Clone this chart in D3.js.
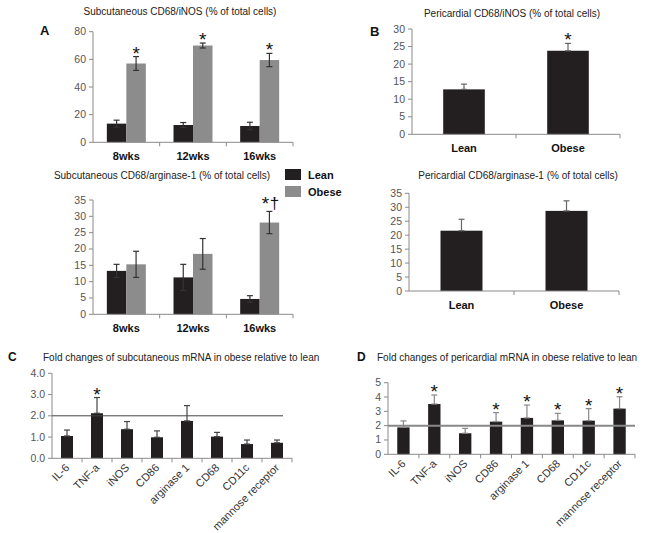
<!DOCTYPE html>
<html><head><meta charset="utf-8">
<script src="https://cdn.jsdelivr.net/npm/d3@7"></script>
<style>body{margin:0;background:#fff}svg{display:block;font-family:"Liberation Sans",Arial,sans-serif}</style>
</head><body><svg id="c" width="645" height="533"></svg>
<script>
// ---- data ----
const weeks = ["8wks", "12wks", "16wks"];
const groups = ["Lean", "Obese"];
const aInosLean = [13.5, 12.5, 11.8];
const aInosLeanErr = [2.5, 1.8, 2.7];
const aInosObese = [57, 70, 59.5];
const aInosObeseErr = [5, 1.8, 4.8];
const aArgLean = [13.3, 11.3, 4.7];
const aArgLeanErr = [2.0, 4.0, 1.0];
const aArgObese = [15.3, 18.5, 28.1];
const aArgObeseErr = [4.0, 4.7, 3.4];
const bInos = [12.8, 23.8];
const bInosErr = [1.5, 2.1];
const bArg = [21.6, 28.7];
const bArgErr = [4.1, 3.6];
const genes = ["IL-6", "TNF-a", "iNOS", "CD86", "arginase 1", "CD68", "CD11c", "mannose receptor"];
const cVals = [1.05, 2.12, 1.37, 0.99, 1.76, 1.02, 0.67, 0.73];
const cErr = [0.28, 0.74, 0.36, 0.30, 0.72, 0.20, 0.19, 0.13];
const dVals = [1.88, 3.51, 1.47, 2.28, 2.54, 2.37, 2.35, 3.19];
const dErr = [0.45, 0.63, 0.34, 0.63, 0.90, 0.49, 0.84, 0.83];
const aInosTicks = [0, 20, 40, 60, 80];
const ticks35 = [0, 5, 10, 15, 20, 25, 30, 35];
const ticks30 = [0, 5, 10, 15, 20, 25, 30];
const cTicks = [0, 1, 2, 3, 4];
const dTicks = [0, 1, 2, 3, 4, 5];

const LEAN = "#231f20", OBESE = "#8c8c8c";
const svg = d3.select("#c");

function yAxis(g, y, x0, ticks, fmt) {
  g.append("line").attr("x1", x0).attr("x2", x0).attr("y1", y.range()[0]).attr("y2", y.range()[1]).attr("stroke", "#8a8a8a");
  ticks.forEach(t => {
    g.append("line").attr("x1", x0 - 4).attr("x2", x0).attr("y1", y(t)).attr("y2", y(t)).attr("stroke", "#8a8a8a");
    g.append("text").attr("x", x0 - 7).attr("y", y(t) + 3.5).attr("text-anchor", "end")
      .attr("font-size", 10.5).attr("fill", "#555").text(fmt ? fmt(t) : t);
  });
}
function xAxis(g, x, y0) {
  const [a, b] = x.range();
  g.append("line").attr("x1", a).attr("x2", b).attr("y1", y0).attr("y2", y0).attr("stroke", "#8a8a8a");
  const n = x.domain().length, step = (b - a) / n;
  for (let i = 1; i <= n; i++) {
    g.append("line").attr("x1", a + i * step).attr("x2", a + i * step).attr("y1", y0).attr("y2", y0 + 4).attr("stroke", "#8a8a8a");
  }
}
function errBar(g, cx, yTop, yBot, color) {
  g.append("line").attr("x1", cx).attr("x2", cx).attr("y1", yTop).attr("y2", yBot).attr("stroke", color).attr("stroke-width", 1.2);
  g.append("line").attr("x1", cx - 3).attr("x2", cx + 3).attr("y1", yTop).attr("y2", yTop).attr("stroke", color).attr("stroke-width", 1.2);
  g.append("line").attr("x1", cx - 3).attr("x2", cx + 3).attr("y1", yBot).attr("y2", yBot).attr("stroke", color).attr("stroke-width", 1.2);
}
// y = top of error bar cap
function star(g, x, y) {
  g.append("text").attr("x", x).attr("y", y + 3).attr("text-anchor", "middle").attr("font-size", 19).attr("fill", "#111").text("*");
}

// ---- Panel A (grouped) ----
function groupedPanel(opts) {
  const g = svg.append("g");
  const x0 = d3.scaleBand().domain(weeks).range(opts.xr).paddingInner(0).paddingOuter(0);
  const x1 = d3.scaleBand().domain(groups).range([0, x0.bandwidth()]).paddingInner(0).paddingOuter(0.71);
  const y = d3.scaleLinear().domain([0, opts.max]).range(opts.yr);
  yAxis(g, y, opts.xr[0], opts.ticks);
  const series = [[opts.lean, opts.leanErr, LEAN], [opts.obese, opts.obeseErr, OBESE]];
  weeks.forEach((w, i) => {
    series.forEach(([vals, errs, col], k) => {
      const bx = x0(w) + x1(groups[k]);
      g.append("rect").attr("x", bx).attr("y", y(vals[i])).attr("width", x1.bandwidth())
        .attr("height", y(0) - y(vals[i])).attr("fill", col);
      errBar(g, bx + x1.bandwidth() / 2, y(vals[i] + errs[i]), y(vals[i] - errs[i]), "#333");
    });
    g.append("text").attr("x", x0(w) + x0.bandwidth() / 2).attr("y", y(0) + 18).attr("text-anchor", "middle")
      .attr("font-size", 11).attr("font-weight", "bold").attr("fill", "#111").text(w);
  });
  xAxis(g, x0, y(0));
  g.append("text").attr("x", opts.tx).attr("y", opts.ty).attr("text-anchor", "middle").attr("font-size", 10).attr("fill", "#222").text(opts.title);
  return { g, x0, x1, y };
}
const A1 = groupedPanel({ xr: [93, 293], yr: [142.3, 31.7], max: 80, ticks: aInosTicks,
  lean: aInosLean, leanErr: aInosLeanErr, obese: aInosObese, obeseErr: aInosObeseErr,
  title: "Subcutaneous CD68/iNOS (% of total cells)", tx: 180, ty: 15 });
weeks.forEach((w, i) => {
  star(A1.g, A1.x0(w) + A1.x1("Obese") + A1.x1.bandwidth() / 2, A1.y(aInosObese[i] + aInosObeseErr[i]));
});
svg.append("text").attr("x", 40).attr("y", 35).attr("font-size", 13).attr("font-weight", "bold").attr("fill", "#111").text("A");

const A2 = groupedPanel({ xr: [93, 293], yr: [314.3, 200], max: 35, ticks: ticks35,
  lean: aArgLean, leanErr: aArgLeanErr, obese: aArgObese, obeseErr: aArgObeseErr,
  title: "Subcutaneous CD68/arginase-1 (% of total cells)", tx: 162, ty: 179 });
{
  const cx = A2.x0("16wks") + A2.x1("Obese") + A2.x1.bandwidth() / 2;
  const yy = A2.y(aArgObese[2] + aArgObeseErr[2]);
  A2.g.append("text").attr("x", cx - 4).attr("y", yy - 1).attr("text-anchor", "middle").attr("font-size", 19).attr("fill", "#111").text("*");
  A2.g.append("text").attr("x", cx + 5).attr("y", yy - 2).attr("text-anchor", "middle").attr("font-size", 17).attr("fill", "#111").text("†");
}
// legend
const lg = svg.append("g");
groups.forEach((gname, i) => {
  lg.append("rect").attr("x", 285).attr("y", 169 + i * 17).attr("width", 16).attr("height", 11).attr("fill", i ? OBESE : LEAN);
  lg.append("text").attr("x", 308).attr("y", 179 + i * 17).attr("font-size", 11).attr("font-weight", "bold").attr("fill", "#111").text(gname);
});

// ---- Panel B ----
function simplePanel(opts) {
  const g = svg.append("g");
  const x = d3.scaleBand().domain(groups).range(opts.xr).paddingInner(0.6).paddingOuter(0.3);
  const y = d3.scaleLinear().domain([0, opts.max]).range(opts.yr);
  yAxis(g, y, opts.xr[0], opts.ticks);
  groups.forEach((gn, i) => {
    g.append("rect").attr("x", x(gn)).attr("y", y(opts.vals[i])).attr("width", x.bandwidth())
      .attr("height", y(0) - y(opts.vals[i])).attr("fill", LEAN);
    errBar(g, x(gn) + x.bandwidth() / 2, y(opts.vals[i] + opts.errs[i]), y(opts.vals[i]), "#666");
    g.append("text").attr("x", x(gn) + x.bandwidth() / 2).attr("y", y(0) + 18).attr("text-anchor", "middle")
      .attr("font-size", 11).attr("font-weight", "bold").attr("fill", "#111").text(gn);
  });
  xAxis(g, x, y(0));
  g.append("text").attr("x", opts.tx).attr("y", opts.ty).attr("text-anchor", "middle").attr("font-size", 10).attr("fill", "#222").text(opts.title);
  return { g, x, y };
}
const B1 = simplePanel({ xr: [412, 620], yr: [134.3, 29], max: 30, ticks: ticks30, vals: bInos, errs: bInosErr,
  title: "Pericardial CD68/iNOS (% of total cells)", tx: 512, ty: 17 });
star(B1.g, B1.x("Obese") + B1.x.bandwidth() / 2, B1.y(bInos[1] + bInosErr[1]));
svg.append("text").attr("x", 370).attr("y", 36).attr("font-size", 13).attr("font-weight", "bold").attr("fill", "#111").text("B");
simplePanel({ xr: [409, 619], yr: [291, 193.3], max: 35, ticks: ticks35, vals: bArg, errs: bArgErr,
  title: "Pericardial CD68/arginase-1 (% of total cells)", tx: 518, ty: 179 });

// ---- Panels C, D ----
function genePanel(opts) {
  const g = svg.append("g");
  const x = d3.scaleBand().domain(genes).range(opts.xr).paddingInner(0.6).paddingOuter(0.3);
  const y = d3.scaleLinear().domain([0, opts.max]).range(opts.yr);
  yAxis(g, y, opts.xr[0], opts.ticks, opts.fmt);
  genes.forEach((gn, i) => {
    g.append("rect").attr("x", x(gn)).attr("y", y(opts.vals[i])).attr("width", x.bandwidth())
      .attr("height", y(0) - y(opts.vals[i])).attr("fill", LEAN);
    errBar(g, x(gn) + x.bandwidth() / 2, y(opts.vals[i] + opts.errs[i]), y(opts.vals[i]), opts.errCol);
    const cx = x(gn) + x.bandwidth() / 2 + 3, cy = y(0) + 10;
    g.append("text").attr("transform", `translate(${cx},${cy}) rotate(-45)`).attr("text-anchor", "end")
      .attr("font-size", 11).attr("fill", "#333").text(gn);
    if (opts.stars.includes(gn)) star(g, x(gn) + x.bandwidth() / 2, y(opts.vals[i] + opts.errs[i]));
  });
  g.append("line").attr("x1", opts.xr[0]).attr("x2", opts.refEnd).attr("y1", y(2)).attr("y2", y(2))
    .attr("stroke", opts.refCol).attr("stroke-width", opts.refW);
  xAxis(g, x, y(0));
  g.append("text").attr("x", opts.tx).attr("y", opts.ty).attr("font-size", 10).attr("fill", "#222").text(opts.title);
  g.append("text").attr("x", opts.lx).attr("y", opts.ty).attr("font-size", 12).attr("font-weight", "bold").attr("fill", "#111").text(opts.letter);
  return g;
}
genePanel({ xr: [52, 292], yr: [458.3, 373.3], max: 4, ticks: cTicks, fmt: d3.format(".1f"), vals: cVals, errs: cErr,
  errCol: "#444", stars: ["TNF-a"], refEnd: 283, refCol: "#444", refW: 1,
  title: "Fold changes of subcutaneous mRNA in obese relative to lean", tx: 43, ty: 361, letter: "C", lx: 8 });
genePanel({ xr: [388, 635], yr: [454.3, 382.7], max: 5, ticks: dTicks, vals: dVals, errs: dErr,
  errCol: "#888", stars: ["TNF-a", "CD86", "arginase 1", "CD68", "CD11c", "mannose receptor"], refEnd: 635, refCol: "#888", refW: 2,
  title: "Fold changes of pericardial mRNA in obese relative to lean", tx: 377, ty: 361, letter: "D", lx: 357 });
</script></body></html>
